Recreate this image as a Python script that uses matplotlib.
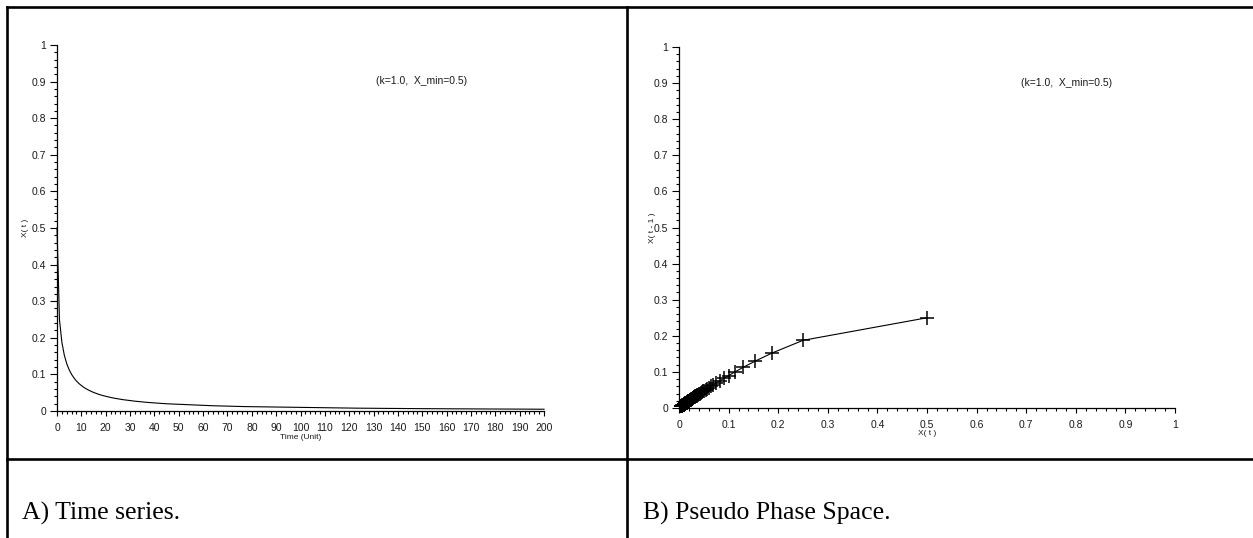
import numpy as np
import matplotlib
matplotlib.use("Agg")
import matplotlib.pyplot as plt
from matplotlib.lines import Line2D
from matplotlib.ticker import MultipleLocator, FormatStrFormatter

# X(t) for t = 0 .. 200
x_values = [
    0.5, 0.25, 0.1875, 0.1523, 0.1291, 0.1125, 0.0998, 0.0899, 0.0818, 0.0751,
    0.0695, 0.0646, 0.0605, 0.0568, 0.0536, 0.0507, 0.0481, 0.0458, 0.0437, 0.0418,
    0.0401, 0.0385, 0.0370, 0.0356, 0.0344, 0.0332, 0.0321, 0.0310, 0.0301, 0.0292,
    0.0283, 0.0275, 0.0268, 0.0261, 0.0254, 0.0247, 0.0241, 0.0235, 0.0230, 0.0225,
    0.0220, 0.0215, 0.0210, 0.0206, 0.0202, 0.0197, 0.0194, 0.0190, 0.0186, 0.0183,
    0.0179, 0.0176, 0.0173, 0.0170, 0.0167, 0.0164, 0.0162, 0.0159, 0.0157, 0.0154,
    0.0152, 0.0149, 0.0147, 0.0145, 0.0143, 0.0141, 0.0139, 0.0137, 0.0135, 0.0133,
    0.0132, 0.0130, 0.0128, 0.0126, 0.0125, 0.0123, 0.0122, 0.0120, 0.0119, 0.0117,
    0.0116, 0.0115, 0.0113, 0.0112, 0.0111, 0.0110, 0.0108, 0.0107, 0.0106, 0.0105,
    0.0104, 0.0103, 0.0102, 0.0101, 0.0100, 0.0099, 0.0098, 0.0097, 0.0096, 0.0095,
    0.0094, 0.0093, 0.0092, 0.0091, 0.0091, 0.0090, 0.0089, 0.0088, 0.0087, 0.0087,
    0.0086, 0.0085, 0.0084, 0.0084, 0.0083, 0.0082, 0.0082, 0.0081, 0.0080, 0.0080,
    0.0079, 0.0078, 0.0078, 0.0077, 0.0077, 0.0076, 0.0075, 0.0075, 0.0074, 0.0074,
    0.0073, 0.0073, 0.0072, 0.0072, 0.0071, 0.0071, 0.0070, 0.0070, 0.0069, 0.0069,
    0.0068, 0.0068, 0.0067, 0.0067, 0.0066, 0.0066, 0.0065, 0.0065, 0.0065, 0.0064,
    0.0064, 0.0063, 0.0063, 0.0063, 0.0062, 0.0062, 0.0061, 0.0061, 0.0061, 0.0060,
    0.0060, 0.0060, 0.0059, 0.0059, 0.0059, 0.0058, 0.0058, 0.0058, 0.0057, 0.0057,
    0.0057, 0.0056, 0.0056, 0.0056, 0.0055, 0.0055, 0.0055, 0.0054, 0.0054, 0.0054,
    0.0053, 0.0053, 0.0053, 0.0053, 0.0052, 0.0052, 0.0052, 0.0052, 0.0051, 0.0051,
    0.0051, 0.0051, 0.0050, 0.0050, 0.0050, 0.0049, 0.0049, 0.0049, 0.0049, 0.0049,
    0.0048,
]
params_text = "(k=1.0,  X_min=0.5)"
captions = ["A) Time series.", "B) Pseudo Phase Space."]

x = np.array(x_values)
t = np.arange(len(x))

plt.rcParams["font.family"] = ["Liberation Sans", "DejaVu Sans"]
TICK_FS = 7.5
LABEL_FS = 6
INK = "#1a1a1a"

fig = plt.figure(figsize=(12.53, 5.38), dpi=100)


def style_axis(ax, xmax, xmajor):
    ax.set_xlim(0, xmax)
    ax.set_ylim(0, 1)
    for side in ("top", "right"):
        ax.spines[side].set_visible(False)
    for side in ("left", "bottom"):
        ax.spines[side].set_linewidth(0.9)
    ax.xaxis.set_major_locator(MultipleLocator(xmajor))
    ax.xaxis.set_minor_locator(MultipleLocator(xmajor / 5))
    ax.yaxis.set_major_locator(MultipleLocator(0.1))
    ax.yaxis.set_minor_locator(MultipleLocator(0.02))
    ax.xaxis.set_major_formatter(FormatStrFormatter("%g"))
    ax.yaxis.set_major_formatter(FormatStrFormatter("%g"))
    ax.tick_params(which="major", direction="out", length=5, width=0.8,
                   labelsize=TICK_FS, labelcolor=INK)
    ax.tick_params(axis="x", which="major", length=3.5, pad=5)
    ax.tick_params(axis="y", which="major", pad=3)
    ax.tick_params(which="minor", direction="out", length=2, width=0.8)
    ax.patch.set_visible(False)


# left panel: time series
ax1 = fig.add_axes([0.0455, 0.2361, 0.3887, 0.6803])
ax1.plot(t, x, color="black", lw=0.8, clip_on=False)
style_axis(ax1, 200, 10)
ax1.text(0.5, -0.062, "Time (Unit)", transform=ax1.transAxes,
         ha="center", va="top", fontsize=LABEL_FS, color=INK)
ax1.text(-0.0657, 0.5, "X( t )", transform=ax1.transAxes, rotation=90,
         ha="center", va="center", fontsize=LABEL_FS, color=INK)
ax1.text(149.5, 0.902, params_text, ha="center", va="center",
         fontsize=TICK_FS, color=INK)

# right panel: X(t) against the previous value
ax2 = fig.add_axes([0.5419, 0.2416, 0.3959, 0.6710])
ax2.plot(x[:-1], x[1:], color="black", lw=0.8, marker="+",
         markersize=9.5, markeredgewidth=1.1, clip_on=False)
style_axis(ax2, 1, 0.1)
ax2.text(0.5, -0.062, "X( t )", transform=ax2.transAxes,
         ha="center", va="top", fontsize=LABEL_FS, color=INK)
ax2.text(-0.0544, 0.5, "X( t - 1 )", transform=ax2.transAxes, rotation=90,
         ha="center", va="center", fontsize=LABEL_FS, color=INK)
ax2.text(0.782, 0.90, params_text, ha="center", va="center",
         fontsize=TICK_FS, color=INK)

# table frame around the two panels
W, H = 1253.0, 538.0
frame = [
    ((7, 1253), (7, 7)),      # top
    ((7, 7), (7, 538)),       # left
    ((627, 627), (7, 538)),   # middle divider
    ((7, 1253), (459, 459)),  # caption row
]
for xs, ys in frame:
    fig.add_artist(Line2D([v / W for v in xs], [1 - v / H for v in ys],
                          transform=fig.transFigure, color="black", lw=1.9))

for cx, text in zip((22, 643), captions):
    fig.text(cx / W, 1 - 513 / H, text, ha="left", va="center",
             fontsize=18.5, family=["Liberation Serif", "DejaVu Serif"],
             color="black")

fig.savefig("out.png", dpi=100, facecolor="white")
